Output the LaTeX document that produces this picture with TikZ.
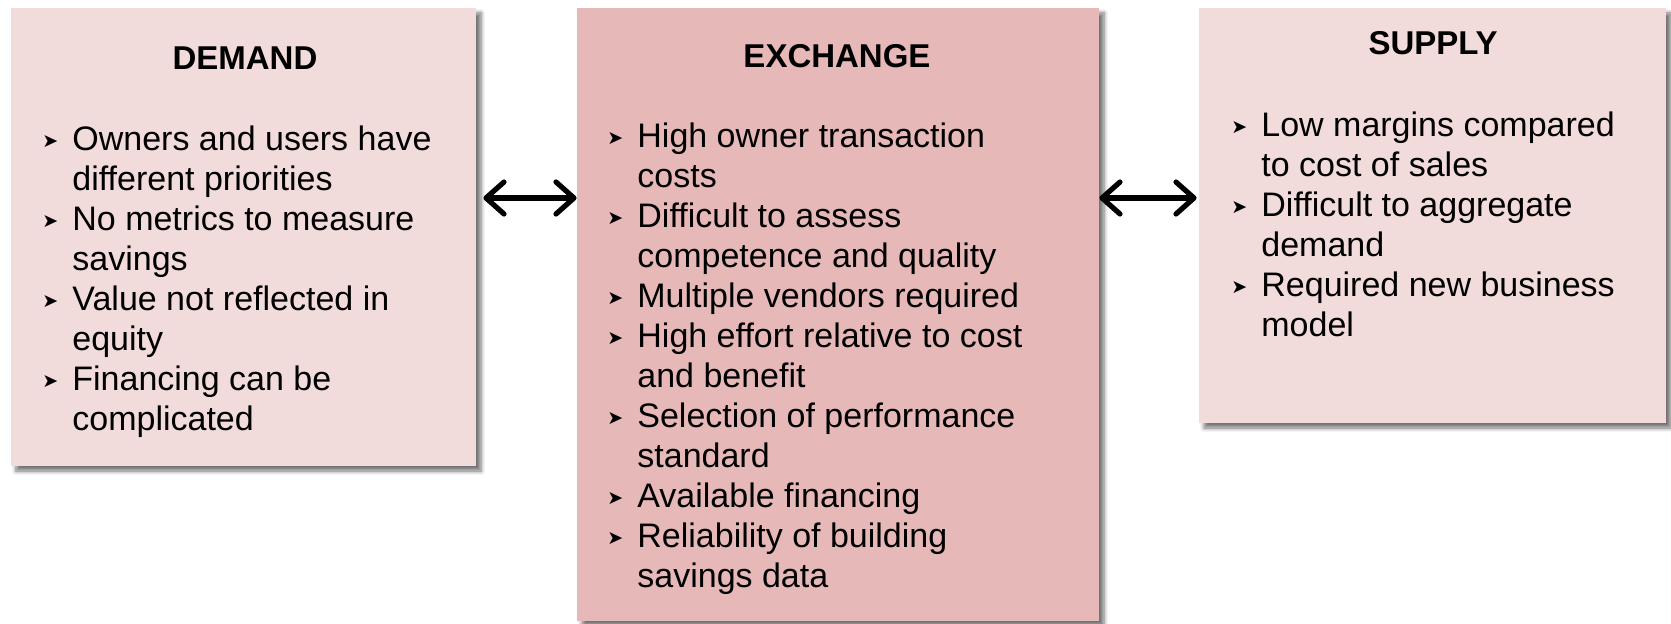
\documentclass[tikz,border=0pt]{standalone}
\usepackage{fontspec}
\setmainfont{Liberation Sans}
\newfontfamily\symfont{DejaVu Sans}
\usetikzlibrary{arrows.meta,shadows.blur}

\definecolor{palepink}{HTML}{F2DCDB}
\definecolor{dustypink}{HTML}{E6B9B8}

% small arrowhead used as bullet
\newcommand{\bul}{{\symfont\fontsize{9.5}{9.5}\selectfont\raisebox{0.3ex}{➤}}}

\begin{document}
\begin{tikzpicture}[x=0.5pt, y=-0.5pt,
  panel/.style ={rectangle, inner sep=0pt,
    blur shadow={shadow xshift=2.5pt, shadow yshift=-2.5pt, shadow blur steps=6, shadow opacity=55}},
  heading/.style ={font=\fontsize{16.5}{20}\selectfont\bfseries, anchor=base, inner sep=0pt},
  points/.style ={font=\fontsize{17}{20}\selectfont, anchor=base west, inner sep=0pt},
  link/.style ={line width=2.6pt, line cap=round,
    {Straight Barb[length=9pt,width=16pt,round]}-{Straight Barb[length=9pt,width=16pt,round]}}]
 \useasboundingbox (0,0) rectangle (1671,624);

 \node[panel, fill=palepink, minimum width=232.5pt, minimum height=229pt] (demand) at (243.5,237) {};
 \node[panel, fill=dustypink, minimum width=261pt, minimum height=306.5pt] (exchange) at (838,314.5) {};
 \node[panel, fill=palepink, minimum width=233.5pt, minimum height=207.5pt] (supply) at (1432.5,215.5) {};

 \node[heading] (demandtitle) at (245,70) {DEMAND};
 \node[heading] (exchangetitle) at (837,68) {EXCHANGE};
 \node[heading] (supplytitle) at (1433,55) {SUPPLY};

 \node[points] (demandlist) at (42,151) {\begin{tabular}[t]{@{}p{15pt}@{}l@{}}
  \bul & Owners and users have\\
       & different priorities\\
  \bul & No metrics to measure\\
       & savings\\
  \bul & Value not reflected in\\
       & equity\\
  \bul & Financing can be\\
       & complicated
 \end{tabular}};

 \node[points] (exchangelist) at (607,148) {\begin{tabular}[t]{@{}p{15pt}@{}l@{}}
  \bul & High owner transaction\\
       & costs\\
  \bul & Difficult to assess\\
       & competence and quality\\
  \bul & Multiple vendors required\\
  \bul & High effort relative to cost\\
       & and benefit\\
  \bul & Selection of performance\\
       & standard\\
  \bul & Available financing\\
  \bul & Reliability of building\\
       & savings data
 \end{tabular}};

 \node[points] (supplylist) at (1231,137) {\begin{tabular}[t]{@{}p{15pt}@{}l@{}}
  \bul & Low margins compared\\
       & to cost of sales\\
  \bul & Difficult to aggregate\\
       & demand\\
  \bul & Required new business\\
       & model
 \end{tabular}};

 \coordinate (row) at (0,198);
 \draw[link, shorten <=3.5pt] (demand.east |- row) to (exchange.west |- row);
 \draw[link, shorten >=1pt] (exchange.east |- row) to (supply.west |- row);
\end{tikzpicture}
\end{document}
